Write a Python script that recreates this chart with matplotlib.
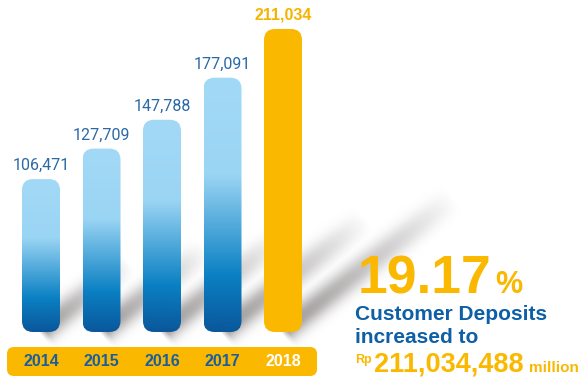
import numpy as np
import matplotlib
matplotlib.use("Agg")
import matplotlib.pyplot as plt
from matplotlib.patches import FancyBboxPatch
from matplotlib.colors import to_rgb
import matplotlib.transforms as mtransforms

years = ["2014", "2015", "2016", "2017", "2018"]
deposits = [106471, 127709, 147788, 177091, 211034]
growth = "19.17"
total_deposits = "211,034,488"

GOLD = "#fab800"
BLUE_TXT = "#0d5fa6"
YEAR_TXT = "#1b5e9e"
VAL_TXT = "#2a68a6"

W, H = 585, 383
fig = plt.figure(figsize=(W / 100, H / 100), dpi=100)

# full-figure canvas in pixel units (y grows downwards)
bg = fig.add_axes([0, 0, 1, 1], zorder=0)
bg.set_xlim(0, W)
bg.set_ylim(H, 0)
bg.axis("off")

# bar axes
ax = fig.add_axes([10.75 / W, 51 / H, 302.5 / W, 323.1 / H], zorder=1)
ax.set_facecolor("none")
ax.set_xlim(-0.5, len(years) - 0.5)
ax.set_ylim(0, 225000)
ax.axis("off")

# pixel scale of the bar axes, used to keep the rounded corners circular
ax_w_px = 302.5
ax_h_px = 323.1
px_x = ax_w_px / len(years)          # px per category
px_y = ax_h_px / 225000              # px per unit
aspect = (1 / px_y) / (1 / px_x)

bar_w = 38 / px_x
radius = 11 / px_x

# blue gradient stops (relative height -> colour)
stops = [(0.0, "#0a579b"), (0.22, "#0a80c3"), (0.62, "#9bd5f4"), (1.0, "#a2d9f6")]
pos = np.array([s[0] for s in stops])
cols = np.array([to_rgb(s[1]) for s in stops])


def gradient(n=256):
    t = np.linspace(0, 1, n)
    rgb = np.stack([np.interp(t, pos, cols[:, k]) for k in range(3)], axis=-1)
    return rgb[:, None, :]


# soft diagonal shadows behind the bars
theta = np.deg2rad(38)
yy, xx = np.mgrid[0:H, 0:W] + 0.5
shade = np.zeros((H, W))
for i, v in enumerate(deposits):
    bx, by = bg.transData.inverted().transform(ax.transData.transform((i, 0)))
    bx += 4
    by -= 2
    L = 0.7 * v * px_y
    dx, dy = xx - bx, yy - by
    u = dx * np.cos(theta) - dy * np.sin(theta)
    w = dx * np.sin(theta) + dy * np.cos(theta)
    along = np.clip(1 - u / L, 0, 1) ** 0.8 * np.clip(u / 6 + 1, 0, 1)
    across = np.exp(-(np.abs(w + 2) / 12.5) ** 2.2)
    shade = np.maximum(shade, along * across)
rgba = np.zeros((H, W, 4))
rgba[..., :3] = to_rgb("#878282")
rgba[..., 3] = 0.8 * shade
bg.imshow(rgba, extent=(0, W, H, 0), zorder=0, interpolation="bilinear")
bg.set_xlim(0, W)
bg.set_ylim(H, 0)

for i, v in enumerate(deposits):
    x0 = i - bar_w / 2
    last = i == len(deposits) - 1
    patch = FancyBboxPatch((x0, 0), bar_w, v,
                           boxstyle=f"round,pad=0,rounding_size={radius}",
                           mutation_aspect=aspect,
                           facecolor=GOLD if last else "none",
                           edgecolor="none", zorder=2)
    ax.add_patch(patch)
    if not last:
        im = ax.imshow(gradient(), extent=(x0, x0 + bar_w, 0, v), origin="lower",
                       aspect="auto", zorder=2, interpolation="bilinear")
        im.set_clip_path(patch)
    if last:
        ax.annotate(f"{v:,}", (i, v), xytext=(0, 6.5), textcoords="offset points",
                    ha="center", va="baseline", fontsize=11.5, fontweight="bold",
                    family="Liberation Sans", color="#f6b400")
    else:
        ax.annotate(f"{v:,}", (i, v), xytext=(0, 6.5), textcoords="offset points",
                    ha="center", va="baseline", fontsize=11.5, fontweight="normal",
                    family="Roboto", color=VAL_TXT)

ax.set_xlim(-0.5, len(years) - 0.5)
ax.set_ylim(0, 225000)

# yellow year strip
bg.add_patch(FancyBboxPatch((7, 347), 310, 29, boxstyle="round,pad=0,rounding_size=7",
                            facecolor=GOLD, edgecolor="none", zorder=1))
tr = mtransforms.blended_transform_factory(ax.transData, bg.transData)
for i, y in enumerate(years):
    bg.text(i, 362, y, transform=tr, ha="center", va="center", fontsize=11.5,
            fontweight="bold", family="Liberation Sans",
            color="white" if i == len(years) - 1 else YEAR_TXT, zorder=3)

# headline on the right
bold = dict(family="Liberation Sans", fontweight="bold", va="baseline", ha="left", zorder=3)
pct = bg.text(358, 293, growth, fontsize=38.5, color=GOLD, **bold)
bg.text(355, 320, "Customer Deposits", fontsize=15, color=BLUE_TXT, **bold)
bg.text(355, 343, "increased to", fontsize=15, color=BLUE_TXT, **bold)
bg.text(355, 363, "Rp", fontsize=9, color=GOLD, **bold)
amt = bg.text(374, 372, total_deposits, fontsize=19.5, color=GOLD, **bold)

# small suffixes sit right after the big numbers
fig.canvas.draw()
r = fig.canvas.get_renderer()
x_end = bg.transData.inverted().transform((pct.get_window_extent(r).x1, 0))[0]
bg.text(x_end + 3, 293, "%", fontsize=22, color=GOLD, **bold)
x_end = bg.transData.inverted().transform((amt.get_window_extent(r).x1, 0))[0]
bg.text(x_end + 5, 372, "million", fontsize=11, color=GOLD, **bold)

fig.savefig("out.png", dpi=100, facecolor="white")
